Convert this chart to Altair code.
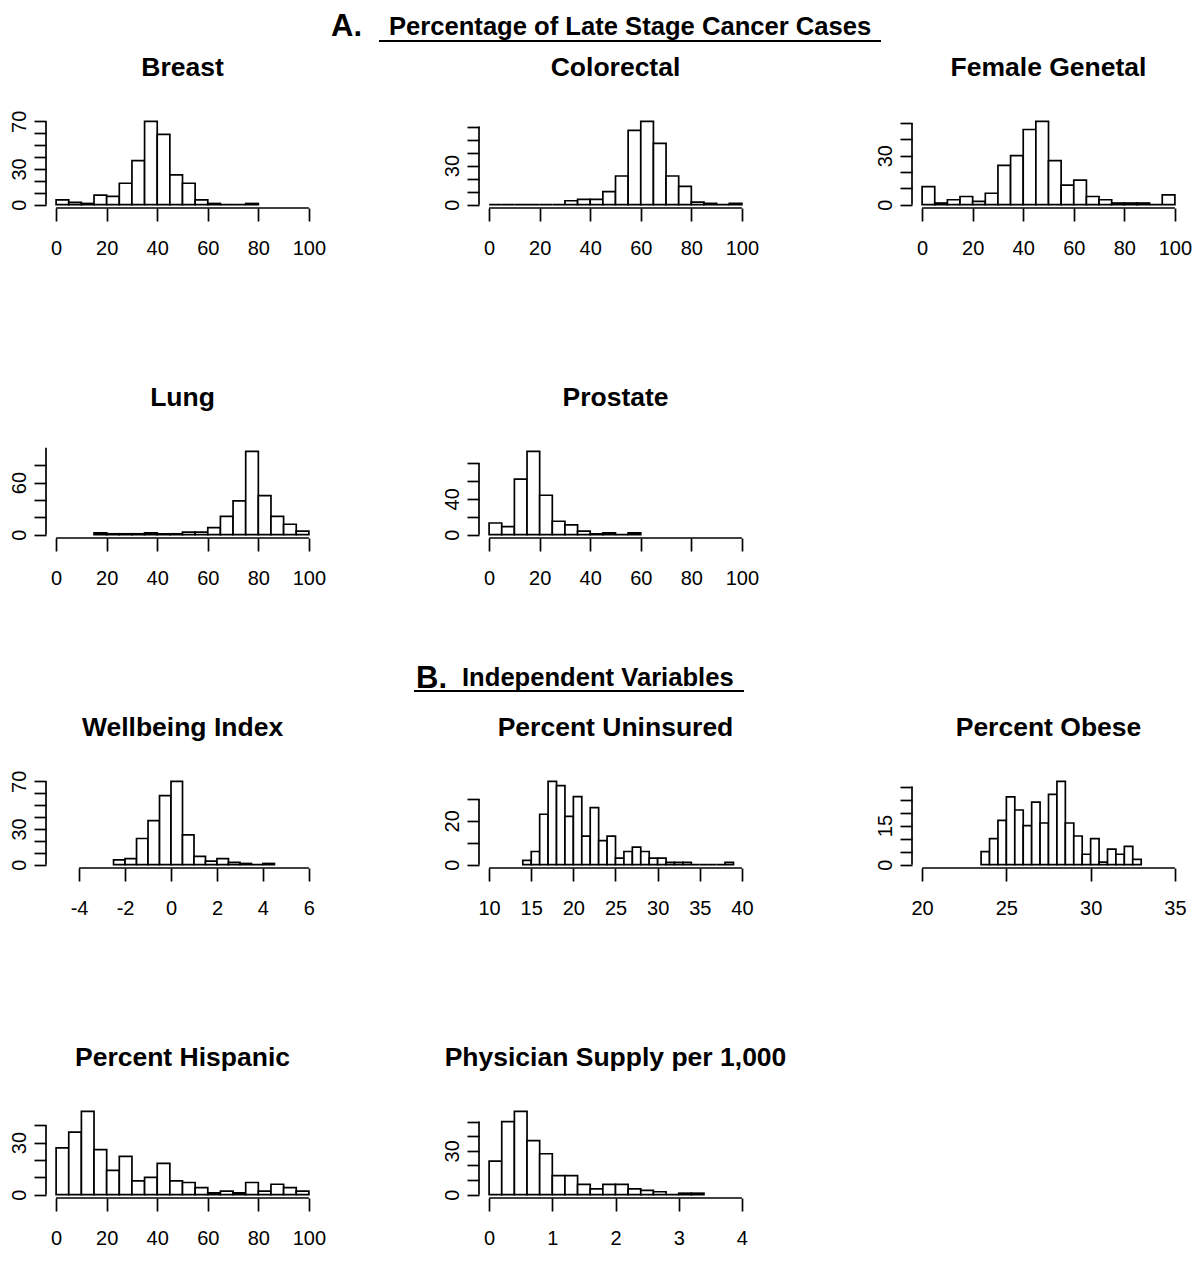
import altair as alt
import pandas as pd

# ---------------- data ----------------
TITLES = ["Breast", "Colorectal", "Female Genetal", "Lung", "Prostate",
          "Wellbeing Index", "Percent Uninsured", "Percent Obese",
          "Percent Hispanic", "Physician Supply per 1,000"]

# histogram counts, first bin edge, bin width
BREAST_COUNTS = [4, 2, 1, 8, 7, 18, 37, 70, 59, 25, 18, 4, 1, 0, 0, 1]
BREAST_BINS = (0, 5)
COLORECTAL_COUNTS = [0, 0, 0, 0, 0, 0, 3, 4, 4, 10, 22, 57, 64, 47, 22, 14, 2, 1, 0, 1]
COLORECTAL_BINS = (0, 5)
FEMALE_COUNTS = [11, 1, 3, 5, 2, 7, 24, 30, 46, 51, 27, 12, 15, 5, 3, 1, 1, 1, 0, 6]
FEMALE_BINS = (0, 5)
LUNG_COUNTS = [2, 1, 1, 1, 2, 1, 1, 3, 3, 8, 21, 39, 96, 45, 21, 12, 4]
LUNG_BINS = (15, 5)
PROSTATE_COUNTS = [13, 9, 62, 93, 44, 15, 11, 4, 1, 2, 0, 2]
PROSTATE_BINS = (0, 5)
WELLBEING_COUNTS = [4, 5, 22, 37, 58, 70, 25, 7, 3, 5, 2, 1, 0, 1]
WELLBEING_BINS = (-2.5, 0.5)
UNINSURED_COUNTS = [2, 6, 23, 38, 36, 22, 31, 13, 26, 11, 13, 3, 6, 8, 6, 3, 3,
                    1, 1, 1, 0, 0, 0, 0, 1]
UNINSURED_BINS = (14, 1)
OBESE_COUNTS = [5, 10, 17, 26, 21, 15, 24, 16, 27, 32, 16, 11, 4, 10, 1, 6, 4, 7, 2]
OBESE_BINS = (23.5, 0.5)
HISPANIC_COUNTS = [27, 36, 48, 26, 14, 22, 8, 10, 18, 8, 7, 4, 1, 2, 1, 7, 2, 6, 4, 2]
HISPANIC_BINS = (0, 5)
PHYSICIAN_COUNTS = [23, 50, 57, 37, 28, 13, 13, 7, 4, 7, 7, 4, 3, 2, 0, 1, 1]
PHYSICIAN_BINS = (0, 0.2)

# axis limits and tick values
PCT_XLIM = (0, 100)
PCT_XTICKS = [0, 20, 40, 60, 80, 100]
WELLBEING_XLIM = (-5, 6)
WELLBEING_XTICKS = [-4, -2, 0, 2, 4, 6]
UNINSURED_XLIM = (10, 40)
UNINSURED_XTICKS = [10, 15, 20, 25, 30, 35, 40]
OBESE_XLIM = (20, 35)
OBESE_XTICKS = [20, 25, 30, 35]
PHYSICIAN_XLIM = (0, 4)
PHYSICIAN_XTICKS = [0, 1, 2, 3, 4]

BREAST_YTICKS, BREAST_YLABELS = [0, 10, 20, 30, 40, 50, 60, 70], [0, 30, 70]
COLORECTAL_YTICKS, COLORECTAL_YLABELS = [0, 10, 20, 30, 40, 50, 60], [0, 30]
FEMALE_YTICKS, FEMALE_YLABELS = [0, 10, 20, 30, 40, 50], [0, 30]
LUNG_YTICKS, LUNG_YLABELS = [0, 20, 40, 60, 80, 100], [0, 60]
PROSTATE_YTICKS, PROSTATE_YLABELS = [0, 20, 40, 60, 80], [0, 40]
WELLBEING_YTICKS, WELLBEING_YLABELS = [0, 10, 20, 30, 40, 50, 60, 70], [0, 30, 70]
UNINSURED_YTICKS, UNINSURED_YLABELS = [0, 10, 20, 30], [0, 20]
OBESE_YTICKS, OBESE_YLABELS = [0, 5, 10, 15, 20, 25, 30], [0, 15]
HISPANIC_YTICKS, HISPANIC_YLABELS = [0, 10, 20, 30, 40], [0, 30]
PHYSICIAN_YTICKS, PHYSICIAN_YLABELS = [0, 10, 20, 30, 40, 50], [0, 30]

HEADER_A = ("A.", "Percentage of Late Stage Cancer Cases")
HEADER_B = ("B.", "Independent Variables")

# ---------------- style ----------------
W, H = 273, 90
FONT = "Liberation Sans"
LW = 1.7


def header(parts, dx_letter, dx_text, dy_letter, dy_text, ul_x0, ul_x1, ul_y):
    dummy = pd.DataFrame({"a": [0]})
    letter = alt.Chart(dummy).mark_text(
        text=parts[0], font=FONT, fontSize=31, fontWeight="bold", align="left",
        baseline="alphabetic", color="black").encode(x=alt.value(dx_letter), y=alt.value(dy_letter))
    text = alt.Chart(dummy).mark_text(
        text=parts[1], font=FONT, fontSize=25.6, fontWeight="bold", align="left",
        baseline="alphabetic", color="black").encode(x=alt.value(dx_text), y=alt.value(dy_text))
    line = alt.Chart(dummy).mark_rule(color="black", strokeWidth=2).encode(
        x=alt.value(ul_x0), x2=alt.value(ul_x1), y=alt.value(ul_y))
    return [letter, text, line]


def panel(title, counts, bins, xlim, xticks, yticks, ylabels, extras=()):
    start, step = bins
    df = pd.DataFrame({
        "lo": [start + i * step for i in range(len(counts))],
        "hi": [start + (i + 1) * step for i in range(len(counts))],
        "n": counts,
        "base": [0] * len(counts),
    })
    m = max(counts)
    xpad = 0.04 * (xlim[1] - xlim[0])
    xs = alt.Scale(domain=[xlim[0] - xpad, xlim[1] + xpad], nice=False, zero=False)
    ys = alt.Scale(domain=[-0.04 * m, 1.04 * m], nice=False, zero=False)
    labs = "[" + ",".join(str(v) for v in ylabels) + "]"
    xaxis = alt.Axis(values=xticks, domain=False, grid=False, tickSize=13, tickWidth=LW,
                     tickColor="black", labelFontSize=20, labelFont=FONT, labelColor="black",
                     labelPadding=17, labelFlush=False, labelOverlap=False,
                     labelExpr="'' + datum.value", title=None)
    yaxis = alt.Axis(values=yticks, domain=False, grid=False, tickSize=12, tickWidth=LW,
                     tickColor="black", labelAngle=270, labelAlign="center",
                     labelBaseline="alphabetic", labelPadding=9, labelFontSize=20,
                     labelFont=FONT, labelColor="black", labelOverlap=False,
                     labelExpr=f"indexof({labs}, datum.value) >= 0 ? '' + datum.value : ''",
                     title=None)
    bars = alt.Chart(df).mark_rect(fill="white", stroke="black", strokeWidth=1.7).encode(
        x=alt.X("lo:Q", scale=xs, axis=xaxis), x2="hi:Q",
        y=alt.Y("n:Q", scale=ys, axis=yaxis), y2="base:Q")
    ax = pd.DataFrame({"x0": [xticks[0]], "x1": [xticks[-1]],
                       "y0": [yticks[0]], "y1": [yticks[-1]]})
    xline = alt.Chart(ax).mark_rule(color="black", strokeWidth=LW).encode(
        x=alt.X("x0:Q", scale=xs, axis=xaxis), x2="x1:Q", y=alt.value(H))
    yline = alt.Chart(ax).mark_rule(color="black", strokeWidth=LW).encode(
        y=alt.Y("y0:Q", scale=ys, axis=yaxis), y2="y1:Q", x=alt.value(0))
    ttl = alt.Chart(ax).mark_text(
        text=title, font=FONT, fontSize=26.5, fontWeight="bold", align="center",
        baseline="alphabetic", color="black").encode(x=alt.value(W / 2), y=alt.value(-42))
    return alt.layer(bars, xline, yline, ttl, *extras).properties(width=W, height=H)


blank = alt.Chart(pd.DataFrame({"a": [0]})).mark_text(text="").encode(
    x=alt.value(0), y=alt.value(0)).properties(width=W, height=H)

panels = [
    panel(TITLES[0], BREAST_COUNTS, BREAST_BINS, PCT_XLIM, PCT_XTICKS, BREAST_YTICKS, BREAST_YLABELS),
    panel(TITLES[1], COLORECTAL_COUNTS, COLORECTAL_BINS, PCT_XLIM, PCT_XTICKS,
          COLORECTAL_YTICKS, COLORECTAL_YLABELS,
          extras=header(HEADER_A, -148, -90, -82, -83, -100, 402, -77)),
    panel(TITLES[2], FEMALE_COUNTS, FEMALE_BINS, PCT_XLIM, PCT_XTICKS, FEMALE_YTICKS, FEMALE_YLABELS),
    panel(TITLES[3], LUNG_COUNTS, LUNG_BINS, PCT_XLIM, PCT_XTICKS, LUNG_YTICKS, LUNG_YLABELS),
    panel(TITLES[4], PROSTATE_COUNTS, PROSTATE_BINS, PCT_XLIM, PCT_XTICKS, PROSTATE_YTICKS, PROSTATE_YLABELS),
    blank,
    panel(TITLES[5], WELLBEING_COUNTS, WELLBEING_BINS, WELLBEING_XLIM, WELLBEING_XTICKS,
          WELLBEING_YTICKS, WELLBEING_YLABELS),
    panel(TITLES[6], UNINSURED_COUNTS, UNINSURED_BINS, UNINSURED_XLIM, UNINSURED_XTICKS,
          UNINSURED_YTICKS, UNINSURED_YLABELS,
          extras=header(HEADER_B, -63, -17, -90, -92, -65, 265, -87)),
    panel(TITLES[7], OBESE_COUNTS, OBESE_BINS, OBESE_XLIM, OBESE_XTICKS, OBESE_YTICKS, OBESE_YLABELS),
    panel(TITLES[8], HISPANIC_COUNTS, HISPANIC_BINS, PCT_XLIM, PCT_XTICKS, HISPANIC_YTICKS, HISPANIC_YLABELS),
    panel(TITLES[9], PHYSICIAN_COUNTS, PHYSICIAN_BINS, PHYSICIAN_XLIM, PHYSICIAN_XTICKS,
          PHYSICIAN_YTICKS, PHYSICIAN_YLABELS),
]

chart = alt.concat(*panels, columns=3, spacing={"row": 240, "column": 160},
                   bounds="flush").properties(
    padding={"top": 3, "left": 0, "right": 0, "bottom": 0}).configure(
    background="white").configure_view(stroke=None, strokeWidth=0)

chart.save("out.html", embed_options={"renderer": "svg", "actions": False})
